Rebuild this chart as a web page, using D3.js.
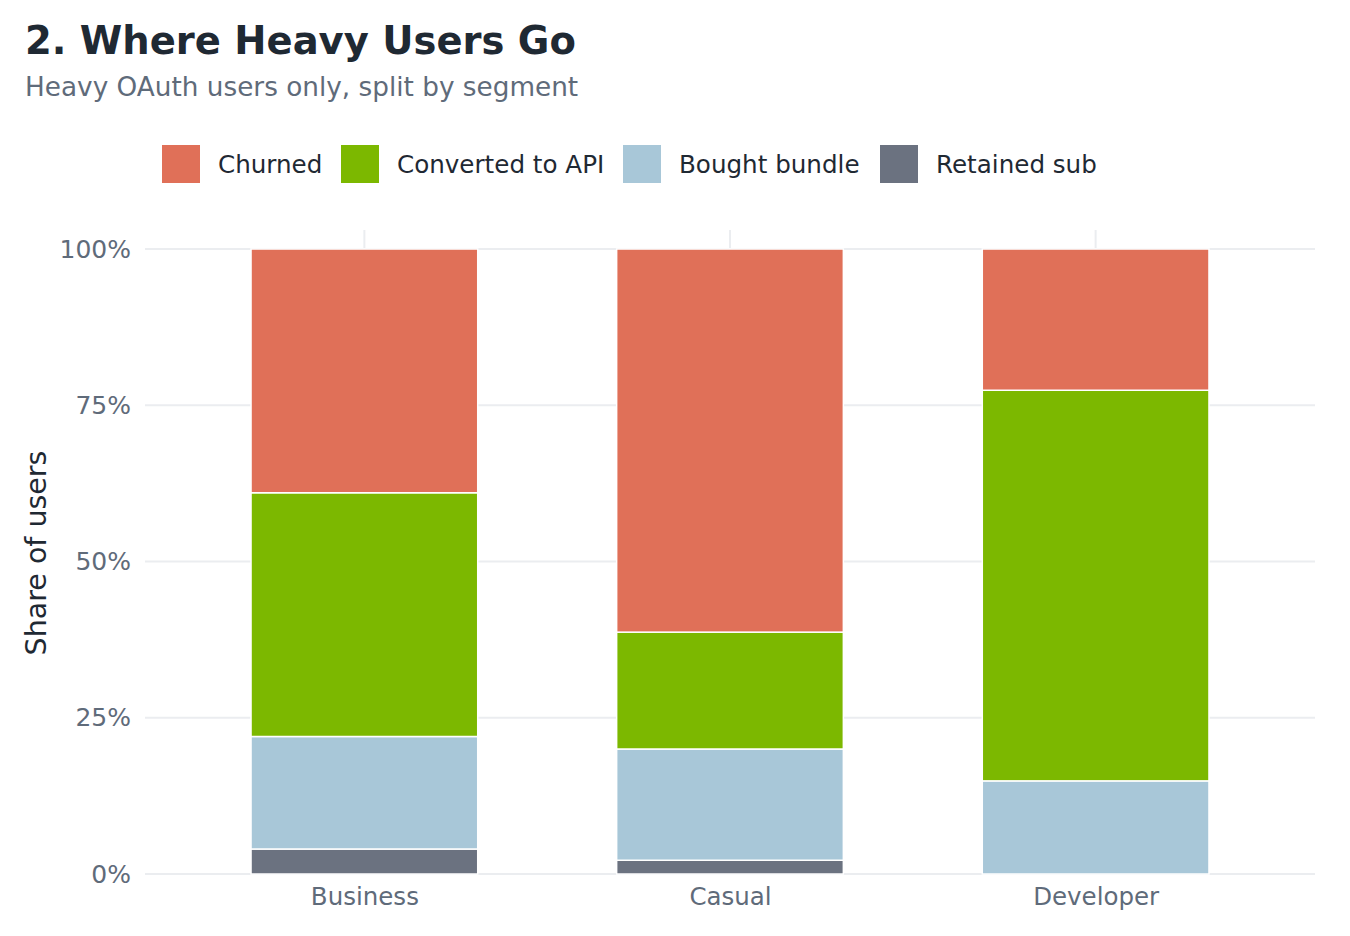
<!DOCTYPE html>
<html>
<head>
<meta charset="utf-8">
<script src="https://cdn.jsdelivr.net/npm/d3@7"></script>
<style>
  body { margin: 0; background: #fff; }
  text { font-family: "DejaVu Sans", sans-serif; }
</style>
</head>
<body>
<svg id="chart" width="1350" height="936"></svg>
<script>
// data (share of heavy users, %)
const segments = ["Business", "Casual", "Developer"];
const outcomes = ["Churned", "Converted to API", "Bought bundle", "Retained sub"];
const churned = [39.0, 61.3, 22.6];
const convertedApi = [39.0, 18.7, 62.5];
const boughtBundle = [18.0, 17.8, 14.9];
const retainedSub = [4.0, 2.2, 0.0];
const yTicks = [0, 25, 50, 75, 100];
const colors = ["#e07058", "#7cb800", "#a8c7d8", "#6b7280"];

const svg = d3.select("#chart");

svg.append("text").attr("x", 25).attr("y", 54)
  .attr("font-size", 38.5).attr("font-weight", "bold").attr("fill", "#1f2933")
  .text("2. Where Heavy Users Go");
svg.append("text").attr("x", 25).attr("y", 96)
  .attr("font-size", 26.3).attr("fill", "#5f6b7a")
  .text("Heavy OAuth users only, split by segment");

// rows per segment, stacked bottom-up: retained, bundle, converted, churned
const rows = segments.map((s, i) => ({
  segment: s,
  "Churned": churned[i],
  "Converted to API": convertedApi[i],
  "Bought bundle": boughtBundle[i],
  "Retained sub": retainedSub[i]
}));
const stackOrder = outcomes.slice().reverse();
const series = d3.stack().keys(stackOrder)(rows);

const x = d3.scaleLinear().domain([0.4, 3.6]).range([145, 1315]);
const y = d3.scaleLinear().domain([0, 100]).range([874, 249]);
const barW = x(1.62) - x(1);
const color = d3.scaleOrdinal().domain(outcomes).range(colors);

const g = svg.append("g");

// gridlines
g.selectAll(".hgrid").data(yTicks).enter().append("line")
  .attr("x1", 145).attr("x2", 1315)
  .attr("y1", d => y(d)).attr("y2", d => y(d))
  .attr("stroke", "#ebedf0").attr("stroke-width", 2);
g.selectAll(".vgrid").data(segments).enter().append("line")
  .attr("x1", (d, i) => x(i + 1)).attr("x2", (d, i) => x(i + 1))
  .attr("y1", 230).attr("y2", 874)
  .attr("stroke", "#ebedf0").attr("stroke-width", 2);

// bars
g.selectAll(".layer").data(series).enter().append("g")
  .attr("fill", d => color(d.key))
  .selectAll("rect").data(d => d).enter().append("rect")
  .attr("x", (d, i) => x(i + 1) - barW / 2)
  .attr("width", barW)
  .attr("y", d => y(d[1]))
  .attr("height", d => Math.max(0, y(d[0]) - y(d[1])))
  .attr("stroke", d => (d[1] - d[0]) > 0 ? "#fff" : "none")
  .attr("stroke-width", 1.5);

// axes
const yAxis = d3.axisLeft(y).tickValues(yTicks).tickFormat(d => d + "%").tickSize(0).tickPadding(14);
svg.append("g").attr("transform", "translate(145,0)").call(yAxis)
  .call(a => a.select(".domain").remove())
  .selectAll("text").attr("font-size", 25).attr("fill", "#5f6b7a")
  .attr("font-family", "DejaVu Sans, sans-serif");

const xAxis = d3.axisBottom(x).tickValues([1, 2, 3]).tickFormat(d => segments[d - 1]).tickSize(0).tickPadding(14);
svg.append("g").attr("transform", "translate(0,874)").call(xAxis)
  .call(a => a.select(".domain").remove())
  .selectAll("text").attr("font-size", 24.5).attr("fill", "#5f6b7a")
  .attr("font-family", "DejaVu Sans, sans-serif");

svg.append("text")
  .attr("transform", "translate(46,553) rotate(-90)")
  .attr("text-anchor", "middle").attr("font-size", 28.5).attr("fill", "#1f2933")
  .text("Share of users");

// legend
const legX = [162, 341, 623, 880];
const leg = svg.selectAll(".leg").data(outcomes).enter().append("g")
  .attr("transform", (d, i) => `translate(${legX[i]},145)`);
leg.append("rect").attr("width", 38).attr("height", 38).attr("fill", d => color(d));
leg.append("text").attr("x", 56).attr("y", 28)
  .attr("font-size", 24.6).attr("fill", "#1f2933").text(d => d);
</script>
</body>
</html>
